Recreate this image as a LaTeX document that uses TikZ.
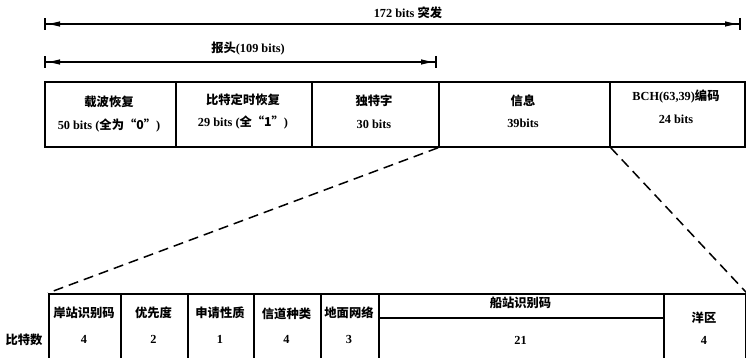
\documentclass[tikz,border=0pt]{standalone}
\usepackage{fontspec}
\setmainfont{Liberation Serif}
\newfontfamily\cjk{Noto Sans CJK SC}
\usetikzlibrary{arrows.meta}
\newcommand\zh[1]{{\cjk\bfseries #1}}
\begin{document}
\begin{tikzpicture}[x=1pt,y=-1pt,
  box/.style={draw, line width=1.8pt, rectangle, inner sep=0pt, anchor=north west, minimum height=65pt},
  bbox/.style={draw, line width=1.8pt, rectangle, inner sep=0pt, anchor=north west, minimum height=95pt},
  lbl/.style={inner sep=0pt, font=\fontsize{12.3}{14}\selectfont\bfseries},
  dimline/.style={line width=1.2pt, {Bar[width=12pt,line width=2pt]Latex[length=14pt,width=5.5pt]}-{Latex[length=14pt,width=5.5pt]Bar[width=12pt,line width=2pt]}},
  zoomline/.style={line width=1.5pt, dash pattern=on 10pt off 6pt}]
\useasboundingbox (0,0) rectangle (746,358);
\clip (0,0) rectangle (746,358);

% dimension lines
\coordinate (d1s) at (44,24);
\coordinate (d1e) at (741,24);
\coordinate (d2s) at (44,62);
\coordinate (d2e) at (437,62);
\draw[dimline] (d1s) -- (d1e);
\draw[dimline] (d2s) -- (d2e);
\node[lbl] (t172) at (408,13) {172 bits \zh{突发}};
\node[lbl] (thead) at (248,49) {\zh{报头}(109 bits)};

% top boxes
\node[box, minimum width=131pt] (b1) at (44,81) {};
\node[box, minimum width=136pt] (b2) at (175,81) {};
\node[box, minimum width=127pt] (b3) at (311,81) {};
\node[box, minimum width=171pt] (b4) at (438,81) {};
\node[box, minimum width=135pt] (b5) at (609,81) {};

\node[lbl] (b1a) at (109,102) {\zh{载波恢复}};
\node[lbl] (b1b) at (109,125) {50 bits (\zh{全为“0”})};
\node[lbl] (b2a) at (243,100) {\zh{比特定时恢复}};
\node[lbl] (b2b) at (243,122) {29 bits (\zh{全“1”})};
\node[lbl] (b3a) at (374,101) {\zh{独特字}};
\node[lbl] (b3b) at (374,124) {30 bits};
\node[lbl] (b4a) at (523,101) {\zh{信息}};
\node[lbl] (b4b) at (523,123) {39bits};
\node[lbl] (b5a) at (676,96) {BCH(63,39)\zh{编码}};
\node[lbl] (b5b) at (676,119) {24 bits};

% bottom boxes
\node[bbox, minimum width=72pt] (c1) at (48,293) {};
\node[bbox, minimum width=67pt] (c2) at (120,293) {};
\node[bbox, minimum width=66pt] (c3) at (187,293) {};
\node[bbox, minimum width=67pt] (c4) at (253,293) {};
\node[bbox, minimum width=58pt] (c5) at (320,293) {};
\node[bbox, minimum width=285pt] (c6) at (378,293) {};
\node[bbox, minimum width=82pt] (c7) at (663,293) {};
\coordinate (c6l) at (378,318);
\coordinate (c6r) at (663,318);
\draw[line width=1.8pt] (c6l) -- (c6r);

\node[lbl] (c1a) at (84,313) {\zh{岸站识别码}};
\node[lbl] (c2a) at (153.5,313) {\zh{优先度}};
\node[lbl] (c3a) at (220,313) {\zh{申请性质}};
\node[lbl] (c4a) at (286.5,314) {\zh{信道种类}};
\node[lbl] (c5a) at (349,313) {\zh{地面网络}};
\node[lbl] (c6a) at (520.5,303) {\zh{船站识别码}};
\node[lbl] (c7a) at (704,318) {\zh{洋区}};
\node[lbl] (nb) at (24,340) {\zh{比特数}};
\node[lbl] (c1b) at (84,339) {4};
\node[lbl] (c2b) at (153.5,339) {2};
\node[lbl] (c3b) at (220,339) {1};
\node[lbl] (c4b) at (286.5,339) {4};
\node[lbl] (c5b) at (349,339) {3};
\node[lbl] (c6b) at (520.5,340) {21};
\node[lbl] (c7b) at (704,340) {4};

% zoom lines
\draw[zoomline] (b4.south west) -- (c1.north west);
\draw[zoomline] (b4.south east) -- (c7.north east);
\end{tikzpicture}
\end{document}
